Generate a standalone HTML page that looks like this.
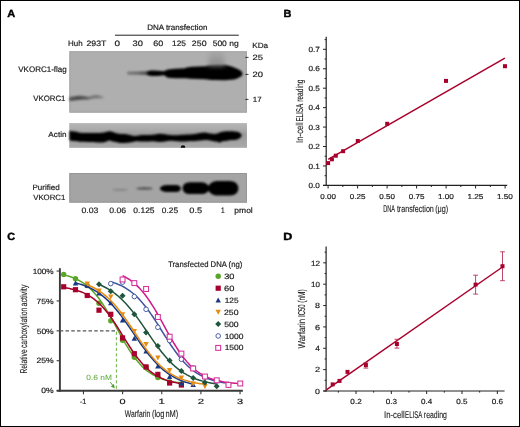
<!DOCTYPE html><html><head><meta charset="utf-8"><style>html,body{margin:0;padding:0;background:#fff;}svg{display:block;will-change:transform;}text{font-family:"Liberation Sans", sans-serif;text-rendering:geometricPrecision;}</style></head><body>
<svg width="520" height="427" viewBox="0 0 520 427">
<defs><filter id="b1" x="-20%" y="-50%" width="140%" height="200%"><feGaussianBlur stdDeviation="1.2"/></filter><filter id="b2" x="-20%" y="-50%" width="140%" height="200%"><feGaussianBlur stdDeviation="0.8"/></filter><filter id="b3" x="-50%" y="-50%" width="200%" height="200%"><feGaussianBlur stdDeviation="2.5"/></filter></defs>
<rect x="0.5" y="0.5" width="519" height="426" fill="#fff" stroke="#000" stroke-width="1"/>
<text x="7.23" y="16.6" font-size="10.4" fill="#000" stroke="#000" stroke-width="0.4" font-weight="bold" textLength="7.97" lengthAdjust="spacingAndGlyphs">A</text>
<text x="283.57" y="16.6" font-size="10.4" fill="#000" stroke="#000" stroke-width="0.4" font-weight="bold" textLength="7.93" lengthAdjust="spacingAndGlyphs">B</text>
<text x="7.35" y="240.2" font-size="10.4" fill="#000" stroke="#000" stroke-width="0.4" font-weight="bold" textLength="7.84" lengthAdjust="spacingAndGlyphs">C</text>
<text x="283.26" y="240.2" font-size="10.4" fill="#000" stroke="#000" stroke-width="0.4" font-weight="bold" textLength="9.07" lengthAdjust="spacingAndGlyphs">D</text>
<text x="147.15" y="30.2" font-size="7.8" fill="#1a1a1a" stroke="#1a1a1a" stroke-width="0.18" font-weight="normal" textLength="60.27" lengthAdjust="spacingAndGlyphs">DNA transfection</text>
<line x1="115" y1="35.2" x2="238.8" y2="35.2" stroke="#222" stroke-width="1"/>
<text x="68.05" y="46" font-size="7.8" fill="#1a1a1a" stroke="#1a1a1a" stroke-width="0.18" font-weight="normal" textLength="14.57" lengthAdjust="spacingAndGlyphs">Huh</text>
<text x="86.46" y="46" font-size="7.8" fill="#1a1a1a" stroke="#1a1a1a" stroke-width="0.18" font-weight="normal" textLength="19.94" lengthAdjust="spacingAndGlyphs">293T</text>
<text x="114.41" y="46" font-size="7.8" fill="#1a1a1a" stroke="#1a1a1a" stroke-width="0.18" font-weight="normal" textLength="5.58" lengthAdjust="spacingAndGlyphs">0</text>
<text x="132.64" y="46" font-size="7.8" fill="#1a1a1a" stroke="#1a1a1a" stroke-width="0.18" font-weight="normal" textLength="10.42" lengthAdjust="spacingAndGlyphs">30</text>
<text x="153.34" y="46" font-size="7.8" fill="#1a1a1a" stroke="#1a1a1a" stroke-width="0.18" font-weight="normal" textLength="10.01" lengthAdjust="spacingAndGlyphs">60</text>
<text x="172.07" y="46" font-size="7.8" fill="#1a1a1a" stroke="#1a1a1a" stroke-width="0.18" font-weight="normal" textLength="13.88" lengthAdjust="spacingAndGlyphs">125</text>
<text x="191.86" y="46" font-size="7.8" fill="#1a1a1a" stroke="#1a1a1a" stroke-width="0.18" font-weight="normal" textLength="14.69" lengthAdjust="spacingAndGlyphs">250</text>
<text x="212.66" y="46" font-size="7.8" fill="#1a1a1a" stroke="#1a1a1a" stroke-width="0.18" font-weight="normal" textLength="25.99" lengthAdjust="spacingAndGlyphs">500 ng</text>
<text x="252.23" y="48.4" font-size="7.6" fill="#1a1a1a" stroke="#1a1a1a" stroke-width="0.18" font-weight="normal" textLength="15.97" lengthAdjust="spacingAndGlyphs">KDa</text>
<rect x="69.4" y="51.3" width="177.5" height="61.3" fill="#afafaf"/>

<rect x="69.4" y="173.0" width="177.5" height="29.6" fill="#a4a4a4"/>
<rect x="69.9" y="51.8" width="176.5" height="60.3" fill="none" stroke="#a4a4a4" stroke-width="1"/>
<rect x="69.9" y="123.7" width="176.5" height="23.5" fill="none" stroke="#a2a2a2" stroke-width="1" opacity="0.6"/>
<rect x="69.9" y="173.5" width="176.5" height="28.6" fill="none" stroke="#969696" stroke-width="1"/>
<line x1="245.3" y1="57.4" x2="248.5" y2="57.4" stroke="#222" stroke-width="0.9"/>
<text x="252.43" y="60.199999999999996" font-size="7.6" fill="#1a1a1a" stroke="#1a1a1a" stroke-width="0.18" font-weight="normal" textLength="10.47" lengthAdjust="spacingAndGlyphs">25</text>
<line x1="245.3" y1="74.4" x2="248.5" y2="74.4" stroke="#222" stroke-width="0.9"/>
<text x="252.43" y="77.2" font-size="7.6" fill="#1a1a1a" stroke="#1a1a1a" stroke-width="0.18" font-weight="normal" textLength="10.44" lengthAdjust="spacingAndGlyphs">20</text>
<line x1="245.3" y1="99.4" x2="248.5" y2="99.4" stroke="#222" stroke-width="0.9"/>
<text x="252.79" y="102.2" font-size="7.6" fill="#1a1a1a" stroke="#1a1a1a" stroke-width="0.18" font-weight="normal" textLength="8.91" lengthAdjust="spacingAndGlyphs">17</text>
<text x="18.26" y="71.9" font-size="8" fill="#1a1a1a" stroke="#1a1a1a" stroke-width="0.18" font-weight="normal" textLength="48.45" lengthAdjust="spacingAndGlyphs">VKORC1-flag</text>
<text x="33.27" y="101" font-size="7.8" fill="#1a1a1a" stroke="#1a1a1a" stroke-width="0.18" font-weight="normal" textLength="32.12" lengthAdjust="spacingAndGlyphs">VKORC1</text>
<text x="48.38" y="137.2" font-size="7.7" fill="#1a1a1a" stroke="#1a1a1a" stroke-width="0.18" font-weight="normal" textLength="18.15" lengthAdjust="spacingAndGlyphs">Actin</text>
<text x="32.54" y="190" font-size="7.7" fill="#1a1a1a" stroke="#1a1a1a" stroke-width="0.18" font-weight="normal" textLength="27.17" lengthAdjust="spacingAndGlyphs">Purified</text>
<text x="33.17" y="199.7" font-size="7.7" fill="#1a1a1a" stroke="#1a1a1a" stroke-width="0.18" font-weight="normal" textLength="32.22" lengthAdjust="spacingAndGlyphs">VKORC1</text>
<text x="81.46" y="213" font-size="7.9" fill="#1a1a1a" stroke="#1a1a1a" stroke-width="0.18" font-weight="normal" textLength="16.92" lengthAdjust="spacingAndGlyphs">0.03</text>
<text x="109.16" y="213" font-size="7.9" fill="#1a1a1a" stroke="#1a1a1a" stroke-width="0.18" font-weight="normal" textLength="16.92" lengthAdjust="spacingAndGlyphs">0.06</text>
<text x="133.37" y="213" font-size="7.9" fill="#1a1a1a" stroke="#1a1a1a" stroke-width="0.18" font-weight="normal" textLength="21.19" lengthAdjust="spacingAndGlyphs">0.125</text>
<text x="161.87" y="213" font-size="7.9" fill="#1a1a1a" stroke="#1a1a1a" stroke-width="0.18" font-weight="normal" textLength="16.28" lengthAdjust="spacingAndGlyphs">0.25</text>
<text x="189.34" y="213" font-size="7.9" fill="#1a1a1a" stroke="#1a1a1a" stroke-width="0.18" font-weight="normal" textLength="12.85" lengthAdjust="spacingAndGlyphs">0.5</text>
<text x="221.01" y="213" font-size="7.9" fill="#1a1a1a" stroke="#1a1a1a" stroke-width="0.18" font-weight="normal" textLength="3.61" lengthAdjust="spacingAndGlyphs">1</text>
<text x="234.35" y="213" font-size="7.9" fill="#1a1a1a" stroke="#1a1a1a" stroke-width="0.18" font-weight="normal" textLength="18.42" lengthAdjust="spacingAndGlyphs">pmol</text>
<defs><linearGradient id="gv" x1="69.5" y1="0" x2="104" y2="0" gradientUnits="userSpaceOnUse"><stop offset="0" stop-color="#555555"/><stop offset="0.25" stop-color="#4d4d4d"/><stop offset="0.48" stop-color="#5c5c5c"/><stop offset="0.6" stop-color="#747474"/><stop offset="0.8" stop-color="#787878"/><stop offset="1" stop-color="#949494"/></linearGradient><linearGradient id="g30" x1="127" y1="0" x2="148" y2="0" gradientUnits="userSpaceOnUse"><stop offset="0" stop-color="#7a7a7a"/><stop offset="0.5" stop-color="#6a6a6a"/><stop offset="1" stop-color="#505050"/></linearGradient><linearGradient id="gsm" x1="0" y1="51.5" x2="0" y2="66" gradientUnits="userSpaceOnUse"><stop offset="0" stop-color="#a8a8a8"/><stop offset="1" stop-color="#8a8a8a"/></linearGradient></defs>
<g filter="url(#b1)">
<path d="M69.5,96.9 C72,96.6 75,96.3 78,95.8 C81,95.5 84,95.6 86,96.2 C87.5,96.6 88.5,96.9 89.5,96.6 C91.5,95.7 93.5,94.9 96,94.9 C99,94.9 101.5,95.6 103,96.6 C104,97.3 104,98 102.5,98.4 C100,98.7 97,98.3 94,98.6 C92,98.8 90.5,99.6 88,99.8 C85,100 82,99.8 79,100.1 C76,100.4 73,101.1 69.5,101.1 Z" fill="url(#gv)"/>
<path d="M128.5,71.6 C134,71.5 140,71.4 148,71.3 L148,75 C140,74.9 134,74.8 128.5,74.8 C126.5,74.5 126.5,71.9 128.5,71.6 Z" fill="url(#g30)"/>
</g>
<g filter="url(#b2)">
<path d="M146.6,73.5 C146.8,71.5 148.5,70.9 151,70.6 L155,70.4 C158,70.5 160,70.9 163,71.3 C165,70.6 166,70 168,69.4 L175,68.7 L185,68.2 C187,67.2 189,66.8 192,66.7 L205,66.3 C208,65.8 210,64.6 213,64.2 L218,64.1 C222,64.3 225,64.8 228,65.5 C233,66.7 237,68.5 240.5,70.6 C242.2,72 242.8,73.5 242.5,74.8 C241.5,76.5 239,78 236,79 C233,79.7 229,80 225,80.2 L215,80.1 C210,79.8 208,79.4 205,79.2 L190,78.7 L186,78.2 L175,78.3 L168,77.8 C166,76.8 165,75.4 163.5,75.2 C161,75.5 159,75.9 156,76 L151,75.9 C148.5,75.6 146.7,75 146.6,73.5 Z" fill="#000"/>
</g>
<clipPath id="cb1"><rect x="69.4" y="51.3" width="177.5" height="61.3"/></clipPath>
<g clip-path="url(#cb1)"><g filter="url(#b3)"><path d="M210,48 L223,48 L225,66 L208,66 Z" fill="url(#gsm)" opacity="0.95"/></g></g>
<defs><linearGradient id="gact" x1="0" y1="123.5" x2="0" y2="147.7" gradientUnits="userSpaceOnUse"><stop offset="0" stop-color="#b6b6b6"/><stop offset="0.25" stop-color="#aaaaaa"/><stop offset="0.45" stop-color="#9a9a9a"/><stop offset="0.75" stop-color="#a2a2a2"/><stop offset="1" stop-color="#aaaaaa"/></linearGradient></defs>
<rect x="69.4" y="123.2" width="177.5" height="24.5" fill="url(#gact)"/>
<g filter="url(#b2)">
<path d="M69.50,130.90 C70.42,131.00 73.25,131.20 75.00,131.50 C76.75,131.80 77.50,132.45 80.00,132.70 C82.50,132.95 86.67,132.95 90.00,133.00 C93.33,133.05 97.50,133.12 100.00,133.00 C102.50,132.88 103.50,132.58 105.00,132.30 C106.50,132.02 107.67,131.33 109.00,131.30 C110.33,131.27 111.50,131.68 113.00,132.10 C114.50,132.52 116.00,133.48 118.00,133.80 C120.00,134.12 123.00,133.80 125.00,134.00 C127.00,134.20 128.33,134.65 130.00,135.00 C131.67,135.35 133.33,136.05 135.00,136.10 C136.67,136.15 138.33,135.48 140.00,135.30 C141.67,135.12 143.33,135.05 145.00,135.00 C146.67,134.95 148.33,135.10 150.00,135.00 C151.67,134.90 153.33,134.60 155.00,134.40 C156.67,134.20 158.33,133.83 160.00,133.80 C161.67,133.77 163.33,134.00 165.00,134.20 C166.67,134.40 168.33,134.82 170.00,135.00 C171.67,135.18 173.33,135.32 175.00,135.30 C176.67,135.28 178.33,135.00 180.00,134.90 C181.67,134.80 183.33,134.77 185.00,134.70 C186.67,134.63 188.33,134.63 190.00,134.50 C191.67,134.37 193.33,134.13 195.00,133.90 C196.67,133.67 198.33,133.32 200.00,133.10 C201.67,132.88 203.33,132.53 205.00,132.60 C206.67,132.67 208.33,133.28 210.00,133.50 C211.67,133.72 213.50,134.00 215.00,133.90 C216.50,133.80 217.83,133.25 219.00,132.90 C220.17,132.55 220.67,132.08 222.00,131.80 C223.33,131.52 225.33,131.30 227.00,131.20 C228.67,131.10 230.33,131.10 232.00,131.20 C233.67,131.30 235.67,131.52 237.00,131.80 C238.33,132.08 239.23,132.38 240.00,132.90 C240.77,133.42 241.33,134.57 241.60,134.90 L241.60,136.10 C241.33,136.43 240.77,137.55 240.00,138.10 C239.23,138.65 238.33,139.07 237.00,139.40 C235.67,139.73 233.67,139.87 232.00,140.10 C230.33,140.33 228.67,140.57 227.00,140.80 C225.33,141.03 223.25,141.17 222.00,141.50 C220.75,141.83 220.17,142.75 219.50,142.80 C218.83,142.85 218.75,142.02 218.00,141.80 C217.25,141.58 216.33,141.72 215.00,141.50 C213.67,141.28 211.67,140.73 210.00,140.50 C208.33,140.27 206.67,140.10 205.00,140.10 C203.33,140.10 201.67,140.33 200.00,140.50 C198.33,140.67 196.67,141.00 195.00,141.10 C193.33,141.20 191.67,141.03 190.00,141.10 C188.33,141.17 186.67,141.43 185.00,141.50 C183.33,141.57 181.67,141.57 180.00,141.50 C178.33,141.43 176.67,141.22 175.00,141.10 C173.33,140.98 171.67,140.75 170.00,140.80 C168.33,140.85 166.67,141.22 165.00,141.40 C163.33,141.58 161.67,141.90 160.00,141.90 C158.33,141.90 156.67,141.48 155.00,141.40 C153.33,141.32 151.67,141.37 150.00,141.40 C148.33,141.43 146.67,141.57 145.00,141.60 C143.33,141.63 141.67,141.63 140.00,141.60 C138.33,141.57 136.67,141.25 135.00,141.40 C133.33,141.55 131.67,142.25 130.00,142.50 C128.33,142.75 126.67,142.80 125.00,142.90 C123.33,143.00 121.17,143.17 120.00,143.10 C118.83,143.03 119.17,142.78 118.00,142.50 C116.83,142.22 114.50,141.75 113.00,141.40 C111.50,141.05 110.33,140.32 109.00,140.40 C107.67,140.48 106.50,141.55 105.00,141.90 C103.50,142.25 102.50,142.50 100.00,142.50 C97.50,142.50 93.33,142.03 90.00,141.90 C86.67,141.77 82.50,141.83 80.00,141.70 C77.50,141.57 76.75,141.35 75.00,141.10 C73.25,140.85 70.42,140.35 69.50,140.20 Z" fill="#000"/>
</g>
<clipPath id="cb2"><rect x="69.4" y="123.2" width="177.5" height="24.5"/></clipPath>
<g clip-path="url(#cb2)"><circle cx="183" cy="147.6" r="2.3" fill="#080808"/></g>
<g filter="url(#b2)">
<ellipse cx="120" cy="189.9" rx="7.5" ry="1.1" fill="#878787"/>
<ellipse cx="144.5" cy="188.4" rx="8.5" ry="1.4" fill="#5a5a5a"/>
<path d="M159.8,188.62 C160.5,186.38 163,185.26 167,185.04 L176,185.04 C179,185.15 180.6,186.38 180.8,188.51 C180.6,190.75 179,191.98 176,192.10 L167,192.10 C163,191.87 160.5,190.86 159.8,188.62 Z" fill="#000"/>
<path d="M182.6,188.18 C182.8,184.59 185.5,182.46 190,182.35 L201,182.35 C204.5,182.46 207,183.70 208.6,185.94 C210.2,183.02 213,181.12 218,181.01 L230,181.01 C235.5,181.23 238.3,184.14 238.4,188.29 C238.3,192.54 235.5,195.34 230,195.57 L218,195.57 C213,195.46 210.2,193.55 208.6,190.64 C207,192.88 204.5,194.00 201,194.11 L190,194.11 C185.5,194.00 182.8,191.76 182.6,188.18 Z" fill="#000"/>
</g>
<line x1="326.2" y1="36.7" x2="326.2" y2="186" stroke="#222" stroke-width="1.2"/>
<line x1="323" y1="185.4" x2="507.2" y2="185.4" stroke="#222" stroke-width="1.2"/>
<line x1="323" y1="185.40" x2="326.2" y2="185.40" stroke="#222" stroke-width="1"/>
<text x="308.48" y="188.1" font-size="7.5" fill="#1a1a1a" stroke="#1a1a1a" stroke-width="0.18" font-weight="normal" textLength="11.34" lengthAdjust="spacingAndGlyphs">0.0</text>
<line x1="323" y1="165.96" x2="326.2" y2="165.96" stroke="#222" stroke-width="1"/>
<text x="308.48" y="168.66" font-size="7.5" fill="#1a1a1a" stroke="#1a1a1a" stroke-width="0.18" font-weight="normal" textLength="11.42" lengthAdjust="spacingAndGlyphs">0.1</text>
<line x1="323" y1="146.52" x2="326.2" y2="146.52" stroke="#222" stroke-width="1"/>
<text x="308.48" y="149.22" font-size="7.5" fill="#1a1a1a" stroke="#1a1a1a" stroke-width="0.18" font-weight="normal" textLength="11.44" lengthAdjust="spacingAndGlyphs">0.2</text>
<line x1="323" y1="127.08" x2="326.2" y2="127.08" stroke="#222" stroke-width="1"/>
<text x="308.48" y="129.78" font-size="7.5" fill="#1a1a1a" stroke="#1a1a1a" stroke-width="0.18" font-weight="normal" textLength="11.38" lengthAdjust="spacingAndGlyphs">0.3</text>
<line x1="323" y1="107.64" x2="326.2" y2="107.64" stroke="#222" stroke-width="1"/>
<text x="308.48" y="110.34" font-size="7.5" fill="#1a1a1a" stroke="#1a1a1a" stroke-width="0.18" font-weight="normal" textLength="11.25" lengthAdjust="spacingAndGlyphs">0.4</text>
<line x1="323" y1="88.20" x2="326.2" y2="88.20" stroke="#222" stroke-width="1"/>
<text x="308.48" y="90.9" font-size="7.5" fill="#1a1a1a" stroke="#1a1a1a" stroke-width="0.18" font-weight="normal" textLength="11.36" lengthAdjust="spacingAndGlyphs">0.5</text>
<line x1="323" y1="68.76" x2="326.2" y2="68.76" stroke="#222" stroke-width="1"/>
<text x="308.48" y="71.46" font-size="7.5" fill="#1a1a1a" stroke="#1a1a1a" stroke-width="0.18" font-weight="normal" textLength="11.38" lengthAdjust="spacingAndGlyphs">0.6</text>
<line x1="323" y1="49.32" x2="326.2" y2="49.32" stroke="#222" stroke-width="1"/>
<text x="308.48" y="52.02" font-size="7.5" fill="#1a1a1a" stroke="#1a1a1a" stroke-width="0.18" font-weight="normal" textLength="11.44" lengthAdjust="spacingAndGlyphs">0.7</text>
<line x1="324.6" y1="175.68" x2="326.2" y2="175.68" stroke="#222" stroke-width="1"/>
<line x1="324.6" y1="156.24" x2="326.2" y2="156.24" stroke="#222" stroke-width="1"/>
<line x1="324.6" y1="136.80" x2="326.2" y2="136.80" stroke="#222" stroke-width="1"/>
<line x1="324.6" y1="117.36" x2="326.2" y2="117.36" stroke="#222" stroke-width="1"/>
<line x1="324.6" y1="97.92" x2="326.2" y2="97.92" stroke="#222" stroke-width="1"/>
<line x1="324.6" y1="78.48" x2="326.2" y2="78.48" stroke="#222" stroke-width="1"/>
<line x1="324.6" y1="59.04" x2="326.2" y2="59.04" stroke="#222" stroke-width="1"/>
<line x1="324.6" y1="39.60" x2="326.2" y2="39.60" stroke="#222" stroke-width="1"/>
<line x1="328.10" y1="185.4" x2="328.10" y2="188.5" stroke="#222" stroke-width="1"/>
<text x="320.29" y="198.6" font-size="7.2" fill="#1a1a1a" stroke="#1a1a1a" stroke-width="0.18" font-weight="normal" textLength="15.63" lengthAdjust="spacingAndGlyphs">0.00</text>
<line x1="357.60" y1="185.4" x2="357.60" y2="188.5" stroke="#222" stroke-width="1"/>
<text x="349.79" y="198.6" font-size="7.2" fill="#1a1a1a" stroke="#1a1a1a" stroke-width="0.18" font-weight="normal" textLength="15.65" lengthAdjust="spacingAndGlyphs">0.25</text>
<line x1="387.10" y1="185.4" x2="387.10" y2="188.5" stroke="#222" stroke-width="1"/>
<text x="379.29" y="198.6" font-size="7.2" fill="#1a1a1a" stroke="#1a1a1a" stroke-width="0.18" font-weight="normal" textLength="15.63" lengthAdjust="spacingAndGlyphs">0.50</text>
<line x1="416.60" y1="185.4" x2="416.60" y2="188.5" stroke="#222" stroke-width="1"/>
<text x="408.79" y="198.6" font-size="7.2" fill="#1a1a1a" stroke="#1a1a1a" stroke-width="0.18" font-weight="normal" textLength="15.65" lengthAdjust="spacingAndGlyphs">0.75</text>
<line x1="446.10" y1="185.4" x2="446.10" y2="188.5" stroke="#222" stroke-width="1"/>
<text x="437.98" y="198.6" font-size="7.2" fill="#1a1a1a" stroke="#1a1a1a" stroke-width="0.18" font-weight="normal" textLength="15.94" lengthAdjust="spacingAndGlyphs">1.00</text>
<line x1="475.60" y1="185.4" x2="475.60" y2="188.5" stroke="#222" stroke-width="1"/>
<text x="467.48" y="198.6" font-size="7.2" fill="#1a1a1a" stroke="#1a1a1a" stroke-width="0.18" font-weight="normal" textLength="15.97" lengthAdjust="spacingAndGlyphs">1.25</text>
<line x1="505.10" y1="185.4" x2="505.10" y2="188.5" stroke="#222" stroke-width="1"/>
<text x="496.98" y="198.6" font-size="7.2" fill="#1a1a1a" stroke="#1a1a1a" stroke-width="0.18" font-weight="normal" textLength="15.94" lengthAdjust="spacingAndGlyphs">1.50</text>
<line x1="342.85" y1="185.4" x2="342.85" y2="187" stroke="#222" stroke-width="1"/>
<line x1="372.35" y1="185.4" x2="372.35" y2="187" stroke="#222" stroke-width="1"/>
<line x1="401.85" y1="185.4" x2="401.85" y2="187" stroke="#222" stroke-width="1"/>
<line x1="431.35" y1="185.4" x2="431.35" y2="187" stroke="#222" stroke-width="1"/>
<line x1="460.85" y1="185.4" x2="460.85" y2="187" stroke="#222" stroke-width="1"/>
<line x1="490.35" y1="185.4" x2="490.35" y2="187" stroke="#222" stroke-width="1"/>
<line x1="328.2" y1="159.4" x2="504.9" y2="58.1" stroke="#a8002c" stroke-width="1.5"/>
<rect x="326.10" y="161.10" width="4" height="4" fill="#a8002c"/>
<rect x="329.90" y="157.30" width="4" height="4" fill="#a8002c"/>
<rect x="333.80" y="153.70" width="4" height="4" fill="#a8002c"/>
<rect x="341.10" y="149.20" width="4" height="4" fill="#a8002c"/>
<rect x="355.80" y="139.00" width="4" height="4" fill="#a8002c"/>
<rect x="385.20" y="121.80" width="4" height="4" fill="#a8002c"/>
<rect x="444.00" y="78.90" width="4" height="4" fill="#a8002c"/>
<rect x="503.00" y="64.20" width="4" height="4" fill="#a8002c"/>
<text x="383.14" y="212.4" font-size="9.7" fill="#1a1a1a" stroke="#1a1a1a" stroke-width="0.12" font-weight="normal" textLength="11.77" lengthAdjust="spacingAndGlyphs">DNA</text>
<text x="396.89" y="212.4" font-size="9.7" fill="#1a1a1a" stroke="#1a1a1a" stroke-width="0.12" font-weight="normal" textLength="36.97" lengthAdjust="spacingAndGlyphs">transfection</text>
<text x="435.15" y="212.4" font-size="9.7" fill="#1a1a1a" stroke="#1a1a1a" stroke-width="0.12" font-weight="normal" textLength="13.10" lengthAdjust="spacingAndGlyphs">(μg)</text>
<text transform="translate(303,142.2) rotate(-90)" x="-0.72" y="0" font-size="9.9" fill="#1a1a1a" stroke="#1a1a1a" stroke-width="0.12" textLength="20.74" lengthAdjust="spacingAndGlyphs">In-cell</text>
<text transform="translate(303,121.1) rotate(-90)" x="-0.51" y="0" font-size="9.9" fill="#1a1a1a" stroke="#1a1a1a" stroke-width="0.12" textLength="17.73" lengthAdjust="spacingAndGlyphs">ELISA</text>
<text transform="translate(303,101.4) rotate(-90)" x="-0.44" y="0" font-size="9.9" fill="#1a1a1a" stroke="#1a1a1a" stroke-width="0.12" textLength="22.17" lengthAdjust="spacingAndGlyphs">reading</text>
<line x1="59.9" y1="268.2" x2="59.9" y2="391.7" stroke="#3a3a3a" stroke-width="1.9"/>
<line x1="56.7" y1="390.75" x2="242.9" y2="390.75" stroke="#3a3a3a" stroke-width="1.9"/>
<line x1="56.6" y1="271.05" x2="59.9" y2="271.05" stroke="#3a3a3a" stroke-width="1.1"/>
<text x="32.67" y="273.75" font-size="7.6" fill="#1a1a1a" stroke="#1a1a1a" stroke-width="0.18" font-weight="normal" textLength="21.02" lengthAdjust="spacingAndGlyphs">100%</text>
<line x1="56.6" y1="300.94" x2="59.9" y2="300.94" stroke="#3a3a3a" stroke-width="1.1"/>
<text x="36.56" y="303.64" font-size="7.6" fill="#1a1a1a" stroke="#1a1a1a" stroke-width="0.18" font-weight="normal" textLength="17.14" lengthAdjust="spacingAndGlyphs">75%</text>
<line x1="56.6" y1="330.83" x2="59.9" y2="330.83" stroke="#3a3a3a" stroke-width="1.1"/>
<text x="36.66" y="333.53" font-size="7.6" fill="#1a1a1a" stroke="#1a1a1a" stroke-width="0.18" font-weight="normal" textLength="17.04" lengthAdjust="spacingAndGlyphs">50%</text>
<line x1="56.6" y1="360.71" x2="59.9" y2="360.71" stroke="#3a3a3a" stroke-width="1.1"/>
<text x="36.57" y="363.41" font-size="7.6" fill="#1a1a1a" stroke="#1a1a1a" stroke-width="0.18" font-weight="normal" textLength="17.14" lengthAdjust="spacingAndGlyphs">25%</text>
<line x1="56.6" y1="390.60" x2="59.9" y2="390.60" stroke="#3a3a3a" stroke-width="1.1"/>
<text x="41.37" y="393.3" font-size="7.6" fill="#1a1a1a" stroke="#1a1a1a" stroke-width="0.18" font-weight="normal" textLength="12.34" lengthAdjust="spacingAndGlyphs">0%</text>
<line x1="83.45" y1="390.8" x2="83.45" y2="394.2" stroke="#3a3a3a" stroke-width="1.1"/>
<text x="79.88" y="404" font-size="7.5" fill="#1a1a1a" stroke="#1a1a1a" stroke-width="0.18" font-weight="normal" textLength="6.48" lengthAdjust="spacingAndGlyphs">-1</text>
<line x1="122.60" y1="390.8" x2="122.60" y2="394.2" stroke="#3a3a3a" stroke-width="1.1"/>
<text x="119.58" y="404" font-size="7.5" fill="#1a1a1a" stroke="#1a1a1a" stroke-width="0.18" font-weight="normal" textLength="6.05" lengthAdjust="spacingAndGlyphs">0</text>
<line x1="161.75" y1="390.8" x2="161.75" y2="394.2" stroke="#3a3a3a" stroke-width="1.1"/>
<text x="158.58" y="404" font-size="7.5" fill="#1a1a1a" stroke="#1a1a1a" stroke-width="0.18" font-weight="normal" textLength="6.32" lengthAdjust="spacingAndGlyphs">1</text>
<line x1="200.90" y1="390.8" x2="200.90" y2="394.2" stroke="#3a3a3a" stroke-width="1.1"/>
<text x="197.73" y="404" font-size="7.5" fill="#1a1a1a" stroke="#1a1a1a" stroke-width="0.18" font-weight="normal" textLength="6.35" lengthAdjust="spacingAndGlyphs">2</text>
<line x1="240.05" y1="390.8" x2="240.05" y2="394.2" stroke="#3a3a3a" stroke-width="1.1"/>
<text x="237.03" y="404" font-size="7.5" fill="#1a1a1a" stroke="#1a1a1a" stroke-width="0.18" font-weight="normal" textLength="6.10" lengthAdjust="spacingAndGlyphs">3</text>
<text x="124.77" y="417.3" font-size="9.8" fill="#1a1a1a" stroke="#1a1a1a" stroke-width="0.12" font-weight="normal" textLength="25.47" lengthAdjust="spacingAndGlyphs">Warfarin</text>
<text x="151.94" y="417.3" font-size="9.8" fill="#1a1a1a" stroke="#1a1a1a" stroke-width="0.12" font-weight="normal" textLength="12.44" lengthAdjust="spacingAndGlyphs">(log</text>
<text x="165.40" y="417.3" font-size="9.8" fill="#1a1a1a" stroke="#1a1a1a" stroke-width="0.12" font-weight="normal" textLength="12.86" lengthAdjust="spacingAndGlyphs">nM)</text>
<text transform="translate(27.2,373) rotate(-90)" x="-0.55" y="0" font-size="9.9" fill="#1a1a1a" stroke="#1a1a1a" stroke-width="0.12" textLength="24.25" lengthAdjust="spacingAndGlyphs">Relative</text>
<text transform="translate(27.2,347.8) rotate(-90)" x="-0.29" y="0" font-size="9.9" fill="#1a1a1a" stroke="#1a1a1a" stroke-width="0.12" textLength="40.44" lengthAdjust="spacingAndGlyphs">carboxylation</text>
<text transform="translate(27.2,306.3) rotate(-90)" x="-0.30" y="0" font-size="9.9" fill="#1a1a1a" stroke="#1a1a1a" stroke-width="0.12" textLength="21.92" lengthAdjust="spacingAndGlyphs">activity</text>
<line x1="59.75" y1="330.9" x2="115.2" y2="330.9" stroke="#555" stroke-width="1.4" stroke-dasharray="3.5,2.25"/>
<line x1="116.4" y1="331.7" x2="116.4" y2="388.7" stroke="#6db44a" stroke-width="1" stroke-dasharray="3.1,2.3"/>
<text x="86.37" y="379.6" font-size="7.6" fill="#62ad3e" stroke="#62ad3e" stroke-width="0.05" font-weight="normal" textLength="25.61" lengthAdjust="spacingAndGlyphs">0.6 nM</text>
<line x1="110.3" y1="382.2" x2="113" y2="385.8" stroke="#55a030" stroke-width="1"/>
<path d="M114.8,388.6 L110.8,386.4 L113.9,384.1 Z" fill="#4f9d2c"/>
<text x="168.13" y="267.1" font-size="8.1" fill="#1a1a1a" stroke="#1a1a1a" stroke-width="0.18" font-weight="normal" textLength="74.14" lengthAdjust="spacingAndGlyphs">Transfected DNA (ng)</text>
<circle cx="218.20" cy="276.30" r="2.70" fill="#5aa528"/>
<text x="224.15" y="278.9" font-size="7.6" fill="#1a1a1a" stroke="#1a1a1a" stroke-width="0.18" font-weight="normal" textLength="10.21" lengthAdjust="spacingAndGlyphs">30</text>
<rect x="215.60" y="285.63" width="5.20" height="5.20" fill="#a8002c"/>
<text x="224.03" y="290.83" font-size="7.6" fill="#1a1a1a" stroke="#1a1a1a" stroke-width="0.18" font-weight="normal" textLength="10.33" lengthAdjust="spacingAndGlyphs">60</text>
<path d="M218.20,297.46 L220.90,302.46 L215.50,302.46 Z" fill="#1a3782"/>
<text x="224.67" y="302.76" font-size="7.6" fill="#1a1a1a" stroke="#1a1a1a" stroke-width="0.18" font-weight="normal" textLength="13.88" lengthAdjust="spacingAndGlyphs">125</text>
<path d="M218.20,314.79 L220.90,309.80 L215.50,309.80 Z" fill="#e68c14"/>
<text x="224.06" y="314.69" font-size="7.6" fill="#1a1a1a" stroke="#1a1a1a" stroke-width="0.18" font-weight="normal" textLength="14.48" lengthAdjust="spacingAndGlyphs">250</text>
<path d="M218.20,321.02 L221.20,324.02 L218.20,327.02 L215.20,324.02 Z" fill="#1e553c"/>
<text x="224.15" y="326.62" font-size="7.6" fill="#1a1a1a" stroke="#1a1a1a" stroke-width="0.18" font-weight="normal" textLength="14.38" lengthAdjust="spacingAndGlyphs">500</text>
<circle cx="218.20" cy="335.95" r="2.30" fill="#fff" stroke="#4a5ea6" stroke-width="1"/>
<text x="224.66" y="338.55" font-size="7.6" fill="#1a1a1a" stroke="#1a1a1a" stroke-width="0.18" font-weight="normal" textLength="18.77" lengthAdjust="spacingAndGlyphs">1000</text>
<rect x="215.75" y="345.43" width="4.90" height="4.90" fill="#fff" stroke="#d4329a" stroke-width="1.05"/>
<text x="224.66" y="350.48" font-size="7.6" fill="#1a1a1a" stroke="#1a1a1a" stroke-width="0.18" font-weight="normal" textLength="18.77" lengthAdjust="spacingAndGlyphs">1500</text>
<polyline points="63.70,274.91 65.19,275.26 66.68,275.64 68.17,276.05 69.66,276.50 71.15,276.99 72.64,277.53 74.13,278.12 75.62,278.76 77.11,279.45 78.60,280.21 80.09,281.03 81.58,281.91 83.07,282.87 84.56,283.91 86.05,285.03 87.54,286.23 89.03,287.52 90.52,288.90 92.01,290.38 93.50,291.96 94.99,293.64 96.48,295.41 97.97,297.29 99.46,299.27 100.95,301.35 102.44,303.53 103.93,305.80 105.42,308.16 106.91,310.60 108.40,313.11 109.89,315.69 111.38,318.32 112.87,320.99 114.36,323.70 115.85,326.43 117.34,329.16 118.83,331.89 120.32,334.60 121.81,337.28 123.29,339.92 124.78,342.51 126.27,345.03 127.76,347.48 129.25,349.85 130.74,352.13 132.23,354.33 133.72,356.42 135.21,358.42 136.70,360.31 138.19,362.11 139.68,363.80 141.17,365.39 142.66,366.88 144.15,368.28 145.64,369.59 147.13,370.80 148.62,371.93 150.11,372.98 151.60,373.95 153.09,374.85 154.58,375.68 156.07,376.45 157.56,377.15 159.05,377.80 160.54,378.39 162.03,378.94 163.52,379.44 165.01,379.89 166.50,380.31 167.99,380.70 169.48,381.05 170.97,381.37 172.46,381.66 173.95,381.93 175.44,382.17 176.93,382.39 178.42,382.59 179.91,382.78 181.40,382.95" fill="none" stroke="#5aa528" stroke-width="1.5"/>
<circle cx="63.70" cy="274.40" r="2.70" fill="#5aa528"/>
<circle cx="75.47" cy="278.80" r="2.70" fill="#5aa528"/>
<circle cx="87.24" cy="285.50" r="2.70" fill="#5aa528"/>
<circle cx="99.01" cy="303.20" r="2.70" fill="#5aa528"/>
<circle cx="110.78" cy="320.70" r="2.70" fill="#5aa528"/>
<circle cx="122.55" cy="340.20" r="2.70" fill="#5aa528"/>
<circle cx="134.32" cy="357.20" r="2.70" fill="#5aa528"/>
<circle cx="146.09" cy="367.50" r="2.70" fill="#5aa528"/>
<circle cx="157.86" cy="377.50" r="2.70" fill="#5aa528"/>
<circle cx="169.63" cy="382.00" r="2.70" fill="#5aa528"/>
<circle cx="181.40" cy="384.00" r="2.70" fill="#5aa528"/>
<polyline points="63.70,287.62 65.19,287.83 66.68,288.07 68.17,288.33 69.66,288.61 71.15,288.92 72.64,289.26 74.13,289.63 75.62,290.04 77.11,290.48 78.60,290.96 80.09,291.48 81.58,292.05 83.07,292.67 84.56,293.35 86.05,294.07 87.54,294.86 89.03,295.72 90.52,296.64 92.01,297.63 93.50,298.70 94.99,299.84 96.48,301.06 97.97,302.37 99.46,303.77 100.95,305.25 102.44,306.82 103.93,308.48 105.42,310.22 106.91,312.06 108.40,313.98 109.89,315.97 111.38,318.05 112.87,320.20 114.36,322.41 115.85,324.67 117.34,326.99 118.83,329.34 120.32,331.72 121.81,334.12 123.29,336.53 124.78,338.93 126.27,341.32 127.76,343.68 129.25,346.00 130.74,348.28 132.23,350.51 133.72,352.67 135.21,354.77 136.70,356.79 138.19,358.73 139.68,360.58 141.17,362.35 142.66,364.03 144.15,365.63 145.64,367.13 147.13,368.55 148.62,369.88 150.11,371.12 151.60,372.29 153.09,373.37 154.58,374.39 156.07,375.32 157.56,376.19 159.05,377.00 160.54,377.74 162.03,378.43 163.52,379.06 165.01,379.65 166.50,380.18 167.99,380.67 169.48,381.12 170.97,381.54 172.46,381.92 173.95,382.27 175.44,382.58 176.93,382.87 178.42,383.14 179.91,383.38 181.40,383.60" fill="none" stroke="#a8002c" stroke-width="1.5"/>
<rect x="61.10" y="284.20" width="5.20" height="5.20" fill="#a8002c"/>
<rect x="72.87" y="287.10" width="5.20" height="5.20" fill="#a8002c"/>
<rect x="84.64" y="292.90" width="5.20" height="5.20" fill="#a8002c"/>
<rect x="96.41" y="307.60" width="5.20" height="5.20" fill="#a8002c"/>
<rect x="108.18" y="311.70" width="5.20" height="5.20" fill="#a8002c"/>
<rect x="119.95" y="335.30" width="5.20" height="5.20" fill="#a8002c"/>
<rect x="131.72" y="351.10" width="5.20" height="5.20" fill="#a8002c"/>
<rect x="143.49" y="364.30" width="5.20" height="5.20" fill="#a8002c"/>
<rect x="155.26" y="371.80" width="5.20" height="5.20" fill="#a8002c"/>
<rect x="167.03" y="380.40" width="5.20" height="5.20" fill="#a8002c"/>
<rect x="178.80" y="382.40" width="5.20" height="5.20" fill="#a8002c"/>
<polyline points="75.47,282.87 76.96,283.25 78.45,283.66 79.94,284.10 81.43,284.57 82.92,285.07 84.41,285.61 85.90,286.18 87.39,286.80 88.88,287.46 90.37,288.17 91.86,288.92 93.35,289.72 94.84,290.57 96.33,291.48 97.82,292.44 99.31,293.46 100.80,294.55 102.29,295.69 103.78,296.89 105.27,298.17 106.76,299.50 108.25,300.90 109.74,302.37 111.23,303.91 112.72,305.51 114.21,307.18 115.70,308.91 117.19,310.70 118.68,312.56 120.17,314.46 121.66,316.42 123.15,318.43 124.64,320.48 126.13,322.57 127.62,324.70 129.11,326.84 130.60,329.01 132.09,331.20 133.58,333.39 135.06,335.57 136.55,337.76 138.04,339.93 139.53,342.07 141.02,344.20 142.51,346.29 144.00,348.34 145.49,350.34 146.98,352.30 148.47,354.21 149.96,356.06 151.45,357.85 152.94,359.58 154.43,361.25 155.92,362.85 157.41,364.39 158.90,365.86 160.39,367.26 161.88,368.59 163.37,369.86 164.86,371.07 166.35,372.21 167.84,373.29 169.33,374.31 170.82,375.27 172.31,376.18 173.80,377.03 175.29,377.83 176.78,378.59 178.27,379.29 179.76,379.95 181.25,380.57 182.74,381.14 184.23,381.68 185.72,382.18 187.21,382.65 188.70,383.09 190.19,383.50 191.68,383.88 193.17,384.23" fill="none" stroke="#1a3782" stroke-width="1.5"/>
<path d="M75.47,280.60 L78.17,285.60 L72.77,285.60 Z" fill="#1a3782"/>
<path d="M87.24,282.80 L89.94,287.80 L84.54,287.80 Z" fill="#1a3782"/>
<path d="M99.01,290.50 L101.71,295.50 L96.31,295.50 Z" fill="#1a3782"/>
<path d="M110.78,300.20 L113.48,305.19 L108.08,305.19 Z" fill="#1a3782"/>
<path d="M122.55,317.60 L125.25,322.60 L119.85,322.60 Z" fill="#1a3782"/>
<path d="M134.32,335.70 L137.02,340.69 L131.62,340.69 Z" fill="#1a3782"/>
<path d="M146.09,348.60 L148.79,353.60 L143.39,353.60 Z" fill="#1a3782"/>
<path d="M157.86,363.60 L160.56,368.60 L155.16,368.60 Z" fill="#1a3782"/>
<path d="M169.63,374.10 L172.33,379.10 L166.93,379.10 Z" fill="#1a3782"/>
<path d="M181.40,380.70 L184.10,385.69 L178.70,385.69 Z" fill="#1a3782"/>
<path d="M193.17,382.10 L195.87,387.10 L190.47,387.10 Z" fill="#1a3782"/>
<polyline points="87.24,284.83 88.73,285.43 90.22,286.06 91.71,286.75 93.20,287.48 94.69,288.26 96.18,289.09 97.67,289.99 99.16,290.94 100.65,291.95 102.14,293.02 103.63,294.16 105.12,295.37 106.61,296.65 108.10,297.99 109.59,299.41 111.08,300.90 112.57,302.46 114.06,304.10 115.55,305.80 117.04,307.57 118.53,309.41 120.02,311.31 121.51,313.27 123.00,315.29 124.49,317.36 125.98,319.48 127.47,321.63 128.96,323.83 130.45,326.04 131.94,328.28 133.43,330.53 134.92,332.78 136.41,335.03 137.90,337.27 139.39,339.50 140.88,341.69 142.37,343.86 143.86,345.98 145.35,348.06 146.83,350.09 148.32,352.06 149.81,353.98 151.30,355.83 152.79,357.61 154.28,359.33 155.77,360.98 157.26,362.55 158.75,364.05 160.24,365.48 161.73,366.85 163.22,368.14 164.71,369.36 166.20,370.51 167.69,371.60 169.18,372.62 170.67,373.58 172.16,374.49 173.65,375.33 175.14,376.12 176.63,376.86 178.12,377.56 179.61,378.20 181.10,378.80 182.59,379.36 184.08,379.89 185.57,380.37 187.06,380.82 188.55,381.24 190.04,381.63 191.53,381.98 193.02,382.32 194.51,382.63 196.00,382.91 197.49,383.18 198.98,383.42 200.47,383.65 201.96,383.86 203.45,384.05 204.94,384.23" fill="none" stroke="#e68c14" stroke-width="1.5"/>
<path d="M87.24,286.50 L89.94,281.50 L84.54,281.50 Z" fill="#e68c14"/>
<path d="M99.01,293.60 L101.71,288.60 L96.31,288.60 Z" fill="#e68c14"/>
<path d="M110.78,299.40 L113.48,294.40 L108.08,294.40 Z" fill="#e68c14"/>
<path d="M122.55,317.30 L125.25,312.31 L119.85,312.31 Z" fill="#e68c14"/>
<path d="M134.32,334.10 L137.02,329.10 L131.62,329.10 Z" fill="#e68c14"/>
<path d="M146.09,347.00 L148.79,342.00 L143.39,342.00 Z" fill="#e68c14"/>
<path d="M157.86,360.50 L160.56,355.50 L155.16,355.50 Z" fill="#e68c14"/>
<path d="M169.63,372.90 L172.33,367.90 L166.93,367.90 Z" fill="#e68c14"/>
<path d="M181.40,380.60 L184.10,375.60 L178.70,375.60 Z" fill="#e68c14"/>
<path d="M193.17,386.60 L195.87,381.60 L190.47,381.60 Z" fill="#e68c14"/>
<path d="M204.94,388.90 L207.64,383.90 L202.24,383.90 Z" fill="#e68c14"/>
<polyline points="99.01,284.54 100.50,285.14 101.99,285.79 103.48,286.48 104.97,287.22 106.46,288.00 107.95,288.84 109.44,289.73 110.93,290.67 112.42,291.67 113.91,292.74 115.40,293.86 116.89,295.05 118.38,296.30 119.87,297.61 121.36,298.99 122.85,300.44 124.34,301.95 125.83,303.53 127.32,305.18 128.81,306.89 130.30,308.66 131.79,310.49 133.28,312.38 134.77,314.32 136.26,316.31 137.75,318.34 139.24,320.42 140.73,322.52 142.22,324.66 143.71,326.81 145.20,328.98 146.69,331.16 148.18,333.34 149.67,335.51 151.16,337.67 152.65,339.82 154.14,341.93 155.63,344.02 157.12,346.07 158.60,348.07 160.09,350.03 161.58,351.94 163.07,353.79 164.56,355.58 166.05,357.31 167.54,358.98 169.03,360.59 170.52,362.13 172.01,363.60 173.50,365.00 174.99,366.34 176.48,367.62 177.97,368.82 179.46,369.97 180.95,371.05 182.44,372.08 183.93,373.04 185.42,373.95 186.91,374.81 188.40,375.61 189.89,376.37 191.38,377.07 192.87,377.73 194.36,378.35 195.85,378.93 197.34,379.47 198.83,379.98 200.32,380.45 201.81,380.89 203.30,381.29 204.79,381.67 206.28,382.03 207.77,382.36 209.26,382.66 210.75,382.95 212.24,383.21 213.73,383.45 215.22,383.68 216.71,383.89" fill="none" stroke="#1e553c" stroke-width="1.5"/>
<path d="M99.01,281.20 L102.01,284.20 L99.01,287.20 L96.01,284.20 Z" fill="#1e553c"/>
<path d="M110.78,288.20 L113.78,291.20 L110.78,294.20 L107.78,291.20 Z" fill="#1e553c"/>
<path d="M122.55,292.80 L125.55,295.80 L122.55,298.80 L119.55,295.80 Z" fill="#1e553c"/>
<path d="M134.32,311.20 L137.32,314.20 L134.32,317.20 L131.32,314.20 Z" fill="#1e553c"/>
<path d="M146.09,329.60 L149.09,332.60 L146.09,335.60 L143.09,332.60 Z" fill="#1e553c"/>
<path d="M157.86,343.10 L160.86,346.10 L157.86,349.10 L154.86,346.10 Z" fill="#1e553c"/>
<path d="M169.63,357.60 L172.63,360.60 L169.63,363.60 L166.63,360.60 Z" fill="#1e553c"/>
<path d="M181.40,367.90 L184.40,370.90 L181.40,373.90 L178.40,370.90 Z" fill="#1e553c"/>
<path d="M193.17,375.10 L196.17,378.10 L193.17,381.10 L190.17,378.10 Z" fill="#1e553c"/>
<path d="M204.94,379.60 L207.94,382.60 L204.94,385.60 L201.94,382.60 Z" fill="#1e553c"/>
<path d="M216.71,383.20 L219.71,386.20 L216.71,389.20 L213.71,386.20 Z" fill="#1e553c"/>
<polyline points="110.78,281.73 112.27,282.17 113.76,282.65 115.25,283.17 116.74,283.73 118.23,284.33 119.72,284.99 121.21,285.69 122.70,286.44 124.19,287.26 125.68,288.13 127.17,289.06 128.66,290.06 130.15,291.13 131.64,292.27 133.13,293.48 134.62,294.77 136.11,296.13 137.60,297.58 139.09,299.10 140.58,300.71 142.07,302.39 143.56,304.16 145.05,306.00 146.54,307.92 148.03,309.92 149.52,311.98 151.01,314.10 152.50,316.29 153.99,318.53 155.48,320.81 156.97,323.13 158.46,325.48 159.95,327.85 161.44,330.24 162.93,332.62 164.42,335.00 165.91,337.37 167.40,339.71 168.89,342.02 170.37,344.29 171.86,346.50 173.35,348.67 174.84,350.77 176.33,352.81 177.82,354.78 179.31,356.67 180.80,358.49 182.29,360.23 183.78,361.88 185.27,363.46 186.76,364.96 188.25,366.37 189.74,367.71 191.23,368.97 192.72,370.16 194.21,371.27 195.70,372.32 197.19,373.29 198.68,374.20 200.17,375.05 201.66,375.84 203.15,376.58 204.64,377.27 206.13,377.90 207.62,378.49 209.11,379.03 210.60,379.54 212.09,380.00 213.58,380.44 215.07,380.83 216.56,381.20 218.05,381.54 219.54,381.85 221.03,382.14 222.52,382.40 224.01,382.65 225.50,382.87 226.99,383.08 228.48,383.27" fill="none" stroke="#3d559e" stroke-width="1.5"/>
<circle cx="110.78" cy="283.60" r="2.30" fill="#fff" stroke="#4a5ea6" stroke-width="1"/>
<circle cx="122.55" cy="282.10" r="2.30" fill="#fff" stroke="#4a5ea6" stroke-width="1"/>
<circle cx="134.32" cy="296.60" r="2.30" fill="#fff" stroke="#4a5ea6" stroke-width="1"/>
<circle cx="146.09" cy="309.30" r="2.30" fill="#fff" stroke="#4a5ea6" stroke-width="1"/>
<circle cx="157.86" cy="327.30" r="2.30" fill="#fff" stroke="#4a5ea6" stroke-width="1"/>
<circle cx="169.63" cy="340.50" r="2.30" fill="#fff" stroke="#4a5ea6" stroke-width="1"/>
<circle cx="181.40" cy="359.30" r="2.30" fill="#fff" stroke="#4a5ea6" stroke-width="1"/>
<circle cx="193.17" cy="368.00" r="2.30" fill="#fff" stroke="#4a5ea6" stroke-width="1"/>
<circle cx="204.94" cy="377.00" r="2.30" fill="#fff" stroke="#4a5ea6" stroke-width="1"/>
<circle cx="216.71" cy="381.00" r="2.30" fill="#fff" stroke="#4a5ea6" stroke-width="1"/>
<circle cx="228.48" cy="384.50" r="2.30" fill="#fff" stroke="#4a5ea6" stroke-width="1"/>
<polyline points="122.55,275.72 124.04,276.44 125.53,277.23 127.02,278.08 128.51,278.99 130.00,279.98 131.49,281.04 132.98,282.18 134.47,283.41 135.96,284.72 137.45,286.12 138.94,287.61 140.43,289.19 141.92,290.87 143.41,292.65 144.90,294.53 146.39,296.50 147.88,298.56 149.37,300.72 150.86,302.97 152.35,305.31 153.84,307.72 155.33,310.20 156.82,312.75 158.31,315.35 159.80,318.00 161.29,320.68 162.78,323.38 164.27,326.10 165.76,328.82 167.25,331.53 168.74,334.21 170.23,336.86 171.72,339.46 173.21,342.01 174.70,344.50 176.19,346.92 177.68,349.25 179.17,351.51 180.66,353.67 182.14,355.74 183.63,357.72 185.12,359.60 186.61,361.38 188.10,363.07 189.59,364.66 191.08,366.15 192.57,367.56 194.06,368.87 195.55,370.10 197.04,371.25 198.53,372.31 200.02,373.30 201.51,374.22 203.00,375.07 204.49,375.86 205.98,376.59 207.47,377.26 208.96,377.88 210.45,378.45 211.94,378.98 213.43,379.46 214.92,379.91 216.41,380.31 217.90,380.69 219.39,381.03 220.88,381.34 222.37,381.63 223.86,381.90 225.35,382.14 226.84,382.36 228.33,382.56 229.82,382.74 231.31,382.91 232.80,383.07 234.29,383.21 235.78,383.34 237.27,383.45 238.76,383.56 240.25,383.66" fill="none" stroke="#d01a8c" stroke-width="1.5"/>
<rect x="120.10" y="277.05" width="4.90" height="4.90" fill="#fff" stroke="#d4329a" stroke-width="1.05"/>
<rect x="131.87" y="280.65" width="4.90" height="4.90" fill="#fff" stroke="#d4329a" stroke-width="1.05"/>
<rect x="143.64" y="286.55" width="4.90" height="4.90" fill="#fff" stroke="#d4329a" stroke-width="1.05"/>
<rect x="155.41" y="314.55" width="4.90" height="4.90" fill="#fff" stroke="#d4329a" stroke-width="1.05"/>
<rect x="167.18" y="334.25" width="4.90" height="4.90" fill="#fff" stroke="#d4329a" stroke-width="1.05"/>
<rect x="178.95" y="351.15" width="4.90" height="4.90" fill="#fff" stroke="#d4329a" stroke-width="1.05"/>
<rect x="190.72" y="366.05" width="4.90" height="4.90" fill="#fff" stroke="#d4329a" stroke-width="1.05"/>
<rect x="202.49" y="374.05" width="4.90" height="4.90" fill="#fff" stroke="#d4329a" stroke-width="1.05"/>
<rect x="214.26" y="377.85" width="4.90" height="4.90" fill="#fff" stroke="#d4329a" stroke-width="1.05"/>
<rect x="226.03" y="382.45" width="4.90" height="4.90" fill="#fff" stroke="#d4329a" stroke-width="1.05"/>
<rect x="237.80" y="381.05" width="4.90" height="4.90" fill="#fff" stroke="#d4329a" stroke-width="1.05"/>
<line x1="326.1" y1="246.4" x2="326.1" y2="391.6" stroke="#222" stroke-width="1.2"/>
<line x1="323.3" y1="391" x2="504.6" y2="391" stroke="#222" stroke-width="1.2"/>
<line x1="323.2" y1="391.00" x2="326.1" y2="391.00" stroke="#222" stroke-width="1"/>
<text x="315.06" y="393.7" font-size="7.5" fill="#1a1a1a" stroke="#1a1a1a" stroke-width="0.18" font-weight="normal" textLength="4.89" lengthAdjust="spacingAndGlyphs">0</text>
<line x1="324.6" y1="380.32" x2="326.1" y2="380.32" stroke="#222" stroke-width="1"/>
<line x1="323.2" y1="369.64" x2="326.1" y2="369.64" stroke="#222" stroke-width="1"/>
<text x="314.94" y="372.34" font-size="7.5" fill="#1a1a1a" stroke="#1a1a1a" stroke-width="0.18" font-weight="normal" textLength="5.13" lengthAdjust="spacingAndGlyphs">2</text>
<line x1="324.6" y1="358.96" x2="326.1" y2="358.96" stroke="#222" stroke-width="1"/>
<line x1="323.2" y1="348.28" x2="326.1" y2="348.28" stroke="#222" stroke-width="1"/>
<text x="315.21" y="350.98" font-size="7.5" fill="#1a1a1a" stroke="#1a1a1a" stroke-width="0.18" font-weight="normal" textLength="4.64" lengthAdjust="spacingAndGlyphs">4</text>
<line x1="324.6" y1="337.60" x2="326.1" y2="337.60" stroke="#222" stroke-width="1"/>
<line x1="323.2" y1="326.92" x2="326.1" y2="326.92" stroke="#222" stroke-width="1"/>
<text x="314.94" y="329.62" font-size="7.5" fill="#1a1a1a" stroke="#1a1a1a" stroke-width="0.18" font-weight="normal" textLength="5.06" lengthAdjust="spacingAndGlyphs">6</text>
<line x1="324.6" y1="316.24" x2="326.1" y2="316.24" stroke="#222" stroke-width="1"/>
<line x1="323.2" y1="305.56" x2="326.1" y2="305.56" stroke="#222" stroke-width="1"/>
<text x="315.01" y="308.26" font-size="7.5" fill="#1a1a1a" stroke="#1a1a1a" stroke-width="0.18" font-weight="normal" textLength="4.98" lengthAdjust="spacingAndGlyphs">8</text>
<line x1="324.6" y1="294.88" x2="326.1" y2="294.88" stroke="#222" stroke-width="1"/>
<line x1="323.2" y1="284.20" x2="326.1" y2="284.20" stroke="#222" stroke-width="1"/>
<text x="310.99" y="286.9" font-size="7.5" fill="#1a1a1a" stroke="#1a1a1a" stroke-width="0.18" font-weight="normal" textLength="8.92" lengthAdjust="spacingAndGlyphs">10</text>
<line x1="324.6" y1="273.52" x2="326.1" y2="273.52" stroke="#222" stroke-width="1"/>
<line x1="323.2" y1="262.84" x2="326.1" y2="262.84" stroke="#222" stroke-width="1"/>
<text x="310.98" y="265.54" font-size="7.5" fill="#1a1a1a" stroke="#1a1a1a" stroke-width="0.18" font-weight="normal" textLength="9.03" lengthAdjust="spacingAndGlyphs">12</text>
<line x1="324.6" y1="252.16" x2="326.1" y2="252.16" stroke="#222" stroke-width="1"/>
<line x1="338.33" y1="391" x2="338.33" y2="392.6" stroke="#222" stroke-width="1"/>
<line x1="356.00" y1="391" x2="356.00" y2="394" stroke="#222" stroke-width="1"/>
<text x="350.38" y="403.5" font-size="7.4" fill="#1a1a1a" stroke="#1a1a1a" stroke-width="0.18" font-weight="normal" textLength="11.33" lengthAdjust="spacingAndGlyphs">0.2</text>
<line x1="373.67" y1="391" x2="373.67" y2="392.6" stroke="#222" stroke-width="1"/>
<line x1="391.33" y1="391" x2="391.33" y2="394" stroke="#222" stroke-width="1"/>
<text x="385.71" y="403.5" font-size="7.4" fill="#1a1a1a" stroke="#1a1a1a" stroke-width="0.18" font-weight="normal" textLength="11.27" lengthAdjust="spacingAndGlyphs">0.3</text>
<line x1="409.00" y1="391" x2="409.00" y2="392.6" stroke="#222" stroke-width="1"/>
<line x1="426.66" y1="391" x2="426.66" y2="394" stroke="#222" stroke-width="1"/>
<text x="421.05" y="403.5" font-size="7.4" fill="#1a1a1a" stroke="#1a1a1a" stroke-width="0.18" font-weight="normal" textLength="11.15" lengthAdjust="spacingAndGlyphs">0.4</text>
<line x1="444.32" y1="391" x2="444.32" y2="392.6" stroke="#222" stroke-width="1"/>
<line x1="461.99" y1="391" x2="461.99" y2="394" stroke="#222" stroke-width="1"/>
<text x="456.37" y="403.5" font-size="7.4" fill="#1a1a1a" stroke="#1a1a1a" stroke-width="0.18" font-weight="normal" textLength="11.26" lengthAdjust="spacingAndGlyphs">0.5</text>
<line x1="479.66" y1="391" x2="479.66" y2="392.6" stroke="#222" stroke-width="1"/>
<line x1="497.32" y1="391" x2="497.32" y2="394" stroke="#222" stroke-width="1"/>
<text x="491.70" y="403.5" font-size="7.4" fill="#1a1a1a" stroke="#1a1a1a" stroke-width="0.18" font-weight="normal" textLength="11.27" lengthAdjust="spacingAndGlyphs">0.6</text>
<line x1="326.3" y1="389.9" x2="502.5" y2="267" stroke="#a8002c" stroke-width="1.5"/>
<rect x="330.70" y="382.40" width="4" height="4" fill="#a8002c"/>
<rect x="337.50" y="378.90" width="4" height="4" fill="#a8002c"/>
<rect x="345.50" y="369.90" width="4" height="4" fill="#a8002c"/>
<path d="M365.90,362.9 V368.1 M363.50,362.9 H368.30 M363.50,368.1 H368.30" stroke="#b3284f" stroke-width="0.85" fill="none"/>
<rect x="363.90" y="363.10" width="4" height="4" fill="#a8002c"/>
<path d="M396.90,339.3 V348.1 M394.50,339.3 H399.30 M394.50,348.1 H399.30" stroke="#b3284f" stroke-width="0.85" fill="none"/>
<rect x="394.90" y="342.00" width="4" height="4" fill="#a8002c"/>
<path d="M475.60,275.2 V294.1 M473.20,275.2 H478.00 M473.20,294.1 H478.00" stroke="#b3284f" stroke-width="0.85" fill="none"/>
<rect x="473.60" y="282.60" width="4" height="4" fill="#a8002c"/>
<path d="M502.50,251.8 V280.7 M500.10,251.8 H504.90 M500.10,280.7 H504.90" stroke="#b3284f" stroke-width="0.85" fill="none"/>
<rect x="500.50" y="264.20" width="4" height="4" fill="#a8002c"/>
<text x="384.09" y="417.8" font-size="9.8" fill="#1a1a1a" stroke="#1a1a1a" stroke-width="0.12" font-weight="normal" textLength="20.63" lengthAdjust="spacingAndGlyphs">In-cell</text>
<text x="405.11" y="417.8" font-size="9.8" fill="#1a1a1a" stroke="#1a1a1a" stroke-width="0.12" font-weight="normal" textLength="17.11" lengthAdjust="spacingAndGlyphs">ELISA</text>
<text x="423.84" y="417.8" font-size="9.8" fill="#1a1a1a" stroke="#1a1a1a" stroke-width="0.12" font-weight="normal" textLength="23.11" lengthAdjust="spacingAndGlyphs">reading</text>
<text transform="translate(305,302.3) rotate(-90)" x="-0.40" y="0" font-size="10" fill="#1a1a1a" stroke="#1a1a1a" stroke-width="0.12" textLength="13.41" lengthAdjust="spacingAndGlyphs">(nM)</text>
<text transform="translate(305,316.4) rotate(-90)" x="-0.55" y="0" font-size="10" fill="#1a1a1a" stroke="#1a1a1a" stroke-width="0.12" textLength="12.58" lengthAdjust="spacingAndGlyphs">IC50</text>
<text transform="translate(305,348.4) rotate(-90)" x="-0.03" y="0" font-size="10" fill="#1a1a1a" stroke="#1a1a1a" stroke-width="0.12" textLength="29.44" lengthAdjust="spacingAndGlyphs">Warfarin</text>
</svg></body></html>
